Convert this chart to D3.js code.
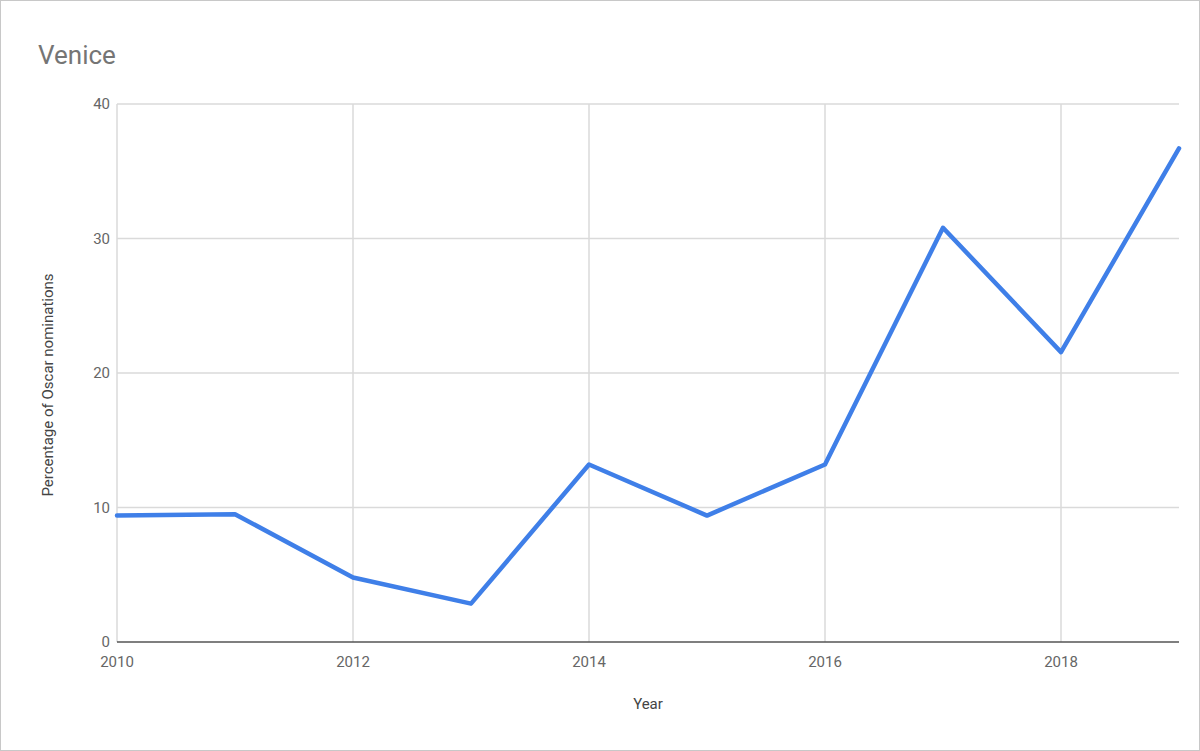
<!DOCTYPE html>
<html>
<head>
<meta charset="utf-8">
<script src="https://cdn.jsdelivr.net/npm/d3@7"></script>
<style>
  body { margin: 0; background: #fff; }
  svg { display: block; font-family: Roboto, "Noto Sans", sans-serif; }
</style>
</head>
<body>
<svg id="chart" width="1200" height="751"></svg>
<script>
const years = [2010, 2011, 2012, 2013, 2014, 2015, 2016, 2017, 2018, 2019];
const percentages = [9.4, 9.5, 4.8, 2.85, 13.2, 9.4, 13.2, 30.8, 21.55, 36.7];
const yTicks = [0, 10, 20, 30, 40];
const xTicks = [2010, 2012, 2014, 2016, 2018];

const width = 1200, height = 751;
const margin = { top: 104, right: 21, bottom: 109, left: 117 };

const svg = d3.select("#chart");

// frame around the whole picture
svg.append("rect")
    .attr("x", 0.5)
    .attr("y", 0.5)
    .attr("width", width - 1)
    .attr("height", height - 1)
    .attr("fill", "#fff")
    .attr("stroke", "#c8c8c8");

const x = d3.scaleLinear()
    .domain([2010, 2019])
    .range([margin.left, width - margin.right]);

const y = d3.scaleLinear()
    .domain([0, 40])
    .range([height - margin.bottom, margin.top]);

// gridlines
const grid = svg.append("g")
    .attr("stroke", "#dadada")
    .attr("stroke-width", 1.5);

grid.selectAll(".hgrid")
  .data(yTicks.filter(d => d > 0))
  .join("line")
    .attr("x1", margin.left)
    .attr("x2", width - margin.right)
    .attr("y1", d => y(d))
    .attr("y2", d => y(d));

grid.selectAll(".vgrid")
  .data(xTicks)
  .join("line")
    .attr("x1", d => x(d))
    .attr("x2", d => x(d))
    .attr("y1", margin.top)
    .attr("y2", y(0));

// baseline
svg.append("line")
    .attr("x1", margin.left)
    .attr("x2", width - margin.right)
    .attr("y1", y(0))
    .attr("y2", y(0))
    .attr("stroke", "#555")
    .attr("stroke-width", 1.5);

// y tick labels
svg.append("g")
    .attr("fill", "#666")
    .attr("font-size", 15)
    .attr("text-anchor", "end")
  .selectAll("text")
  .data(yTicks)
  .join("text")
    .attr("x", margin.left - 7)
    .attr("y", d => y(d) + 5)
    .text(d => d);

// x tick labels
svg.append("g")
    .attr("fill", "#666")
    .attr("font-size", 15)
    .attr("text-anchor", "middle")
  .selectAll("text")
  .data(xTicks)
  .join("text")
    .attr("x", d => x(d))
    .attr("y", y(0) + 25)
    .text(d => d);

// line
const line = d3.line()
    .x((d, i) => x(years[i]))
    .y(d => y(d));

svg.append("path")
    .datum(percentages)
    .attr("fill", "none")
    .attr("stroke", "#3f7fe8")
    .attr("stroke-width", 4.5)
    .attr("stroke-linejoin", "round")
    .attr("stroke-linecap", "round")
    .attr("d", line);

// title and axis titles
svg.append("text")
    .attr("x", 38)
    .attr("y", 64)
    .attr("font-size", 26)
    .attr("fill", "#757575")
    .text("Venice");

svg.append("text")
    .attr("x", 648)
    .attr("y", 709)
    .attr("font-size", 15)
    .attr("fill", "#444")
    .attr("text-anchor", "middle")
    .text("Year");

svg.append("text")
    .attr("transform", "translate(53, 385) rotate(-90)")
    .attr("font-size", 15)
    .attr("fill", "#444")
    .attr("text-anchor", "middle")
    .text("Percentage of Oscar nominations");
</script>
</body>
</html>
